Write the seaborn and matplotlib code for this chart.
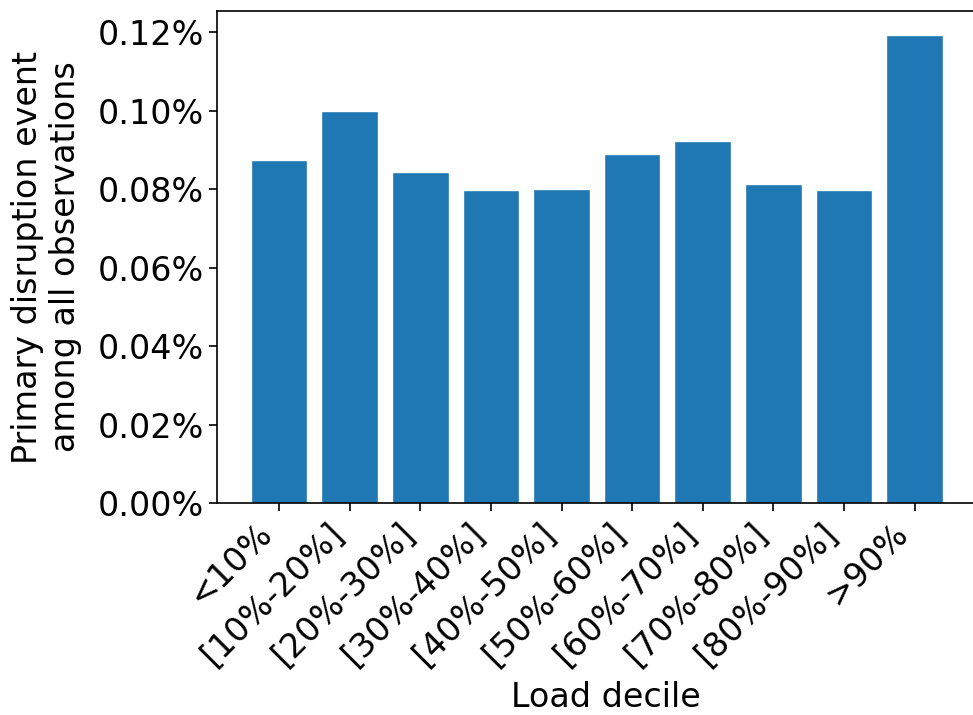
import matplotlib
matplotlib.use("Agg")
import matplotlib.pyplot as plt
import seaborn as sns
import pandas as pd
from matplotlib.ticker import PercentFormatter

categories = ["<10%", "[10%-20%]", "[20%-30%]", "[30%-40%]", "[40%-50%]",
              "[50%-60%]", "[60%-70%]", "[70%-80%]", "[80%-90%]", ">90%"]
values_pct = [0.0873, 0.0998, 0.0843, 0.0797, 0.0801,
              0.0890, 0.0922, 0.0814, 0.0797, 0.1194]

df = pd.DataFrame({"decile": categories, "rate": values_pct})

sns.set_style("ticks")
plt.rcParams["font.family"] = ["DejaVu Sans"]
plt.rcParams["text.color"] = "black"
plt.rcParams["axes.labelcolor"] = "black"
plt.rcParams["xtick.color"] = "black"
plt.rcParams["ytick.color"] = "black"

fig = plt.figure(figsize=(9.73, 7.15), dpi=100)
ax = fig.add_axes([0.223, 0.2965, 0.80, 0.688])

sns.barplot(data=df, x="decile", y="rate", color="#1f77b4", saturation=1,
            width=0.8, ax=ax, errorbar=None)

n = len(categories)
left = -0.4 - 0.049 * (n - 0.2)
ax.set_xlim(left, left + 0.80 * 973 / 70.6)
ax.set_ylim(0, max(values_pct) * 1.05)
ax.set_yticks([0, 0.02, 0.04, 0.06, 0.08, 0.10, 0.12])
ax.yaxis.set_major_formatter(PercentFormatter(xmax=100, decimals=2))

ax.tick_params(axis="both", labelsize=24, length=6, width=1.2, colors="black")
ax.tick_params(axis="y", right=False, labelright=False)
for lbl in ax.get_xticklabels():
    lbl.set_rotation(45)
    lbl.set_ha("right")

ax.set_xlabel("Load decile", fontsize=24, color="black", labelpad=7)
ax.set_ylabel("Primary disruption event\namong all observations", fontsize=24,
              color="black", labelpad=11)
for s in ax.spines.values():
    s.set_color("black")
    s.set_linewidth(1.2)
ax.spines["right"].set_visible(False)
ax.patch.set_edgecolor("none")

fig.savefig("out.png", dpi=100, facecolor="white", edgecolor="none")
